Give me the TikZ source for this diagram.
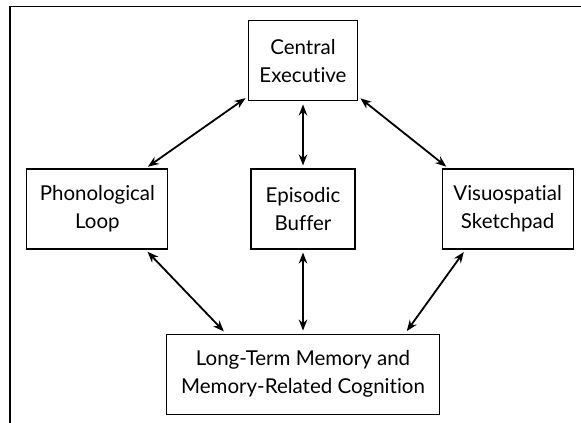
\documentclass[tikz,border=0pt]{standalone}
\usepackage{fontspec}
\setsansfont{Lato}[Ligatures=NoCommon]
\usetikzlibrary{arrows.meta, positioning}

\begin{document}
\begin{tikzpicture}[x=1pt, y=-1pt, font=\sffamily\fontsize{20.5}{28}\selectfont,
    node distance=67pt,
    box/.style={draw, line width=1.1pt, align=center, minimum height=80pt, inner sep=0pt},
    arrow/.style={{Stealth[length=11pt,width=8.5pt]}-{Stealth[length=11pt,width=8.5pt]},
      line width=1.8pt, shorten <=3pt, shorten >=3pt}]
    \useasboundingbox (0,0) rectangle (581,423);
    % frame (only top and left edges show)
    \draw[line width=1.6pt] (10,423) -- (10,6.5) -- (581,6.5);
    \node[box, minimum width=104pt] (eb) at (303,209) {Episodic\\Buffer};
    \node[box, minimum width=109pt, above=67pt of eb] (ce) {Central\\Executive};
    \node[box, minimum width=141pt, left=82pt of eb] (pl) {Phonological\\Loop};
    \node[box, minimum width=131pt, right=86pt of eb] (vs) {Visuospatial\\Sketchpad};
    \node[box, minimum width=273pt, below=84pt of eb] (lt) {Long-Term Memory and\\Memory-Related Cognition};
    \draw[arrow] ([yshift=5pt]ce.south west) -- ([xshift=-23pt]pl.north east);
    \draw[arrow] (ce.south) -- (eb.north);
    \draw[arrow] ([yshift=5pt]ce.south east) -- ([xshift=7pt]vs.north west);
    \draw[arrow] ([xshift=-23pt]pl.south east) -- ([xshift=60pt]lt.north west);
    \draw[arrow] (eb.south) -- (lt.north);
    \draw[arrow] ([xshift=24pt]vs.south west) -- ([xshift=-35pt]lt.north east);
\end{tikzpicture}
\end{document}
